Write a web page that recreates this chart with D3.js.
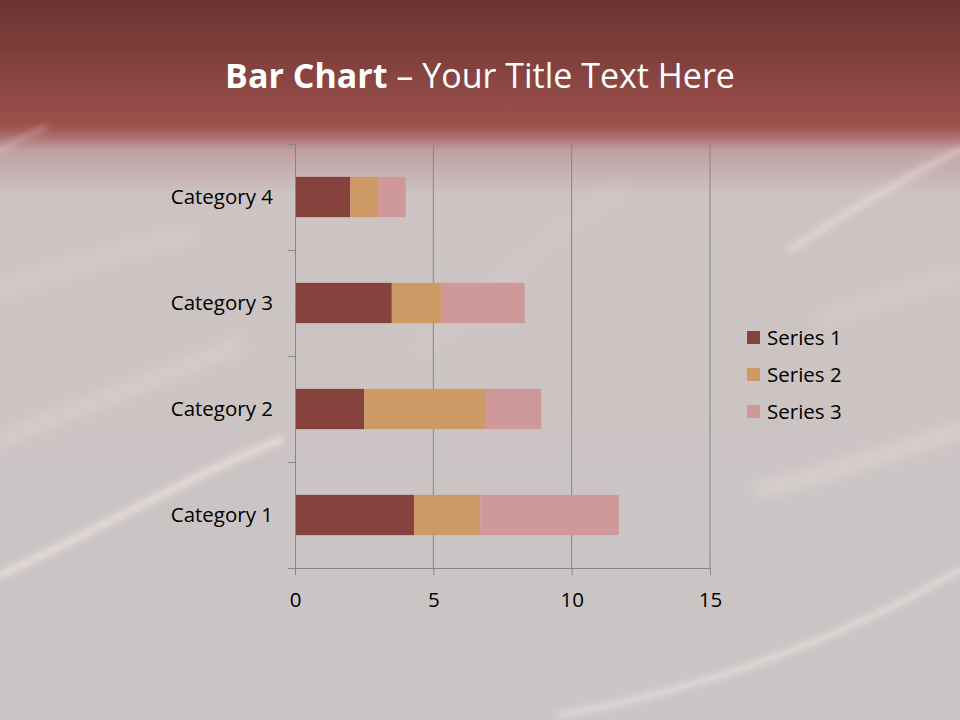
<!DOCTYPE html>
<html><head><meta charset="utf-8">
<script src="https://cdn.jsdelivr.net/npm/d3@7/dist/d3.min.js"></script>
<style>html,body{margin:0;padding:0;background:#cbc5c5;}svg{display:block;}</style>
</head><body>
<svg id="c" width="960" height="720"></svg>
<script>
const categories = ["Category 1", "Category 2", "Category 3", "Category 4"];
const seriesNames = ["Series 1", "Series 2", "Series 3"];
const series1 = [4.3, 2.5, 3.5, 2];
const series2 = [2.4, 4.4, 1.8, 1];
const series3 = [5, 2, 3, 1];
const xTicks = [0, 5, 10, 15];
const colors = ["#86433e", "#cd9a66", "#cf9899"];

const svg = d3.select("#c");
const defs = svg.append("defs");
const font = "'Open Sans', 'Noto Sans', sans-serif";

// background
const bg = defs.append("linearGradient").attr("id","bg").attr("x1",0).attr("y1",0).attr("x2",0).attr("y2",1);
[[0,"#6a3331"],[0.17,"#9a4f4a"],[0.182,"#a35d5a"],[0.21,"#c0a2a2"],[0.27,"#cdc3c3"],[1,"#cbc5c5"]]
  .forEach(([o,c])=>bg.append("stop").attr("offset",o).attr("stop-color",c));
svg.append("rect").attr("width",960).attr("height",720).attr("fill","url(#bg)");

const blur = defs.append("filter").attr("id","blur").attr("x","-20%").attr("y","-50%").attr("width","140%").attr("height","200%");
blur.append("feGaussianBlur").attr("stdDeviation",3);
const blur2 = defs.append("filter").attr("id","blur2").attr("x","-20%").attr("y","-50%").attr("width","140%").attr("height","200%");
blur2.append("feGaussianBlur").attr("stdDeviation",8);

const streaks = [
  {d:"M0,575 C100,530 180,480 280,440",w:8,o:0.5,f:"blur"},
  {d:"M0,440 C60,415 140,385 240,345",w:10,o:0.3,f:"blur2"},
  {d:"M0,290 C60,270 120,250 190,235",w:10,o:0.25,f:"blur2"},
  {d:"M560,715 C700,690 840,640 960,570",w:6,o:0.5,f:"blur"},
  {d:"M760,490 C840,470 900,450 960,430",w:12,o:0.35,f:"blur2"},
  {d:"M790,250 C850,210 910,175 960,150",w:7,o:0.4,f:"blur"},
  {d:"M820,320 C880,300 920,285 960,275",w:10,o:0.25,f:"blur2"},
  {d:"M420,350 C480,300 540,240 620,190",w:8,o:0.2,f:"blur2"},
  {d:"M0,150 C20,140 30,132 45,128",w:5,o:0.3,f:"blur"}
];
svg.append("g").selectAll("path").data(streaks).join("path")
  .attr("d",d=>d.d).attr("fill","none").attr("stroke","#fbeeee")
  .attr("stroke-width",d=>d.w).attr("stroke-linecap","round")
  .attr("opacity",d=>d.o).attr("filter",d=>"url(#"+d.f+")");

// title
const title = svg.append("text").attr("x",480).attr("y",88).attr("text-anchor","middle")
  .attr("fill","#ffffff").attr("font-family",font).attr("font-size",34);
title.append("tspan").attr("font-weight","bold").text("Bar Chart");
title.append("tspan").text(" \u2013 Your Title Text Here");

// chart
const pLeft = 295, pRight = 710, pTop = 144, pBottom = 568;
const x = d3.scaleLinear().domain([0,15]).range([pLeft,pRight]);
const y = d3.scaleBand().domain(categories.slice().reverse()).range([pTop,pBottom]).paddingInner(0.62).paddingOuter(0.31);

const data = categories.map((c,i)=>({cat:c, "Series 1":series1[i], "Series 2":series2[i], "Series 3":series3[i]}));
const stack = d3.stack().keys(seriesNames)(data);

// gridlines
svg.append("g").selectAll("line").data(xTicks.slice(1)).join("line")
  .attr("x1",d=>x(d)).attr("x2",d=>x(d)).attr("y1",pTop).attr("y2",pBottom)
  .attr("stroke","#868686").attr("stroke-width",1);

// bars
svg.append("g").selectAll("g").data(stack).join("g").attr("fill",(d,i)=>colors[i])
  .selectAll("rect").data(d=>d).join("rect")
  .attr("x",d=>x(d[0])).attr("width",d=>x(d[1])-x(d[0]))
  .attr("y",d=>y(d.data.cat)).attr("height",y.bandwidth());

// axes
const xAxis = svg.append("g").attr("transform",`translate(0,${pBottom})`)
  .call(d3.axisBottom(x).tickValues(xTicks).tickSize(7).tickPadding(17));
xAxis.select(".domain").attr("d",`M${pLeft-7},0.5H${pRight}`);
const yAxisScale = d3.scalePoint().domain(d3.range(5)).range([pTop,pBottom]);
const yAxis = svg.append("g").attr("transform",`translate(${pLeft},0)`)
  .call(d3.axisLeft(yAxisScale).tickValues(d3.range(5)).tickSize(7).tickFormat(""));
yAxis.select(".domain").attr("d",`M0.5,${pTop}V${pBottom}`);
[xAxis,yAxis].forEach(a=>{
  a.selectAll("path,line").attr("stroke","#868686");
  a.selectAll("text").attr("font-family",font).attr("font-size",20.5).attr("fill","#000");
});

svg.append("g").selectAll("text").data(categories).join("text")
  .attr("x",273).attr("y",d=>y(d)+y.bandwidth()/2).attr("dy","0.35em")
  .attr("text-anchor","end").attr("font-family",font).attr("font-size",20.5).attr("fill","#000")
  .text(d=>d);

// legend
const lg = svg.append("g").selectAll("g").data(seriesNames).join("g")
  .attr("transform",(d,i)=>`translate(747,${331+i*37})`);
lg.append("rect").attr("width",13).attr("height",13).attr("fill",(d,i)=>colors[i]);
lg.append("text").attr("x",20).attr("y",6.5).attr("dy","0.35em")
  .attr("font-family",font).attr("font-size",20.5).attr("fill","#000").text(d=>d);
</script>
</body></html>
